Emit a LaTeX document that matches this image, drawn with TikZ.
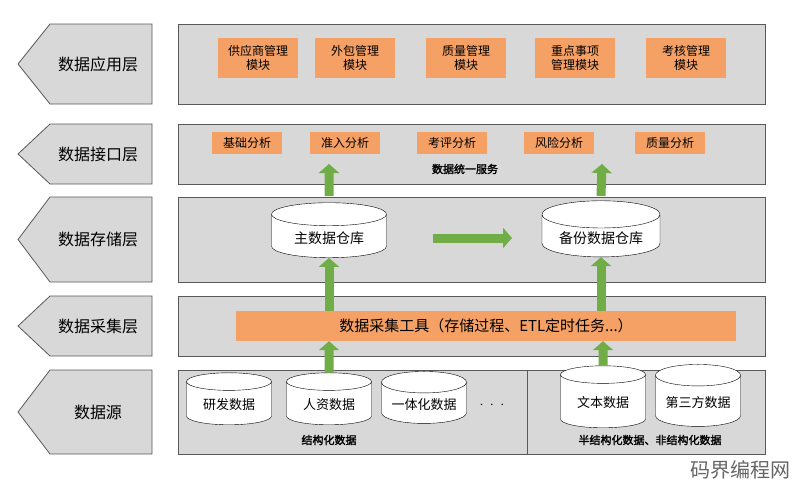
\documentclass[tikz,border=0pt]{standalone}
\usepackage{fontspec}
\setmainfont{Noto Sans CJK SC}
\newfontfamily\cjkbold[FakeBold=2]{Noto Sans CJK SC}
\usetikzlibrary{shapes.geometric,arrows.meta}
\definecolor{panelgray}{RGB}{216,216,216}
\definecolor{boxorange}{RGB}{245,160,100}
\definecolor{arrowgreen}{RGB}{112,173,71}
\tikzset{
  panel/.style={draw=gray!70!black, fill=panelgray, line width=0.8pt},
  modbox/.style={fill=boxorange, minimum width=80pt, minimum height=40pt, align=center, font=\fontsize{12}{14}\selectfont},
  anabox/.style={fill=boxorange, minimum width=70pt, minimum height=22pt, font=\fontsize{12}{14}\selectfont},
  store/.style={cylinder, shape border rotate=90, draw, fill=white, aspect=0.3, font=\fontsize{13}{15}\selectfont},
  flow/.style={-{Triangle[length=9pt,width=20pt]}, line width=9pt, arrowgreen},
  tag/.style={font=\cjkbold\fontsize{11}{13}\selectfont}
}
\begin{document}
\begin{tikzpicture}[x=1pt,y=-1pt]
	\useasboundingbox (0,0) rectangle (812,490);
	% layer labels
	\foreach \ya/\yb/\name in {24/104/数据应用层,124/184/数据接口层,197/282/数据存储层,296/356/数据采集层,370/454/数据源}{
		\filldraw[panel] (18,{(\ya+\yb)/2}) -- (50,\ya) -- (152,\ya) -- (152,\yb) -- (50,\yb) -- cycle;
		\node[font=\fontsize{16}{18}\selectfont] at (98,{(\ya+\yb)/2}) {\name};
		\filldraw[panel] (178,\ya) rectangle (765,\yb);
	}
	% application layer
	\node[modbox] (supplier) at (258,58) {供应商管理\\模块};
	\node[modbox] (outsource) at (355,58) {外包管理\\模块};
	\node[modbox] (quality) at (466,58) {质量管理\\模块};
	\node[modbox] (keyitem) at (575,58) {重点事项\\管理模块};
	\node[modbox] (assess) at (686,58) {考核管理\\模块};
	% interface layer
	\node[anabox] (basic) at (247,143) {基础分析};
	\node[anabox] (access) at (345,143) {准入分析};
	\node[anabox] (review) at (452,143) {考评分析};
	\node[anabox] (risk) at (559,143) {风险分析};
	\node[anabox] (qa) at (670,143) {质量分析};
	\node[tag] (service) at (465,169) {数据统一服务};
	% storage layer
	\node[store, minimum width=115pt, minimum height=55pt, font=\fontsize{14}{16}\selectfont] (master) at (329,238) {主数据仓库};
	\node[store, minimum width=118pt, minimum height=55pt, font=\fontsize{14}{16}\selectfont] (backup) at (601,238) {备份数据仓库};
	\coordinate (upA) at (329,164);
	\coordinate (upB) at (602,164);
	\coordinate (hA) at (433,238);
	\coordinate (hB) at (512,238);
	% collection layer
	\node[fill=boxorange, minimum width=500pt, minimum height=30pt, font=\fontsize{15}{17}\selectfont] (tool) at (486,326) {数据采集工具（存储过程、ETL定时任务...）};
	% sources
	\draw[gray!70!black, line width=0.8pt] (527,370) -- (527,454);
	\node[store, minimum width=85pt, minimum height=52pt] (rd) at (229,405) {研发数据};
	\node[store, minimum width=85pt, minimum height=52pt] (hr) at (329,405) {人资数据};
	\node[store, minimum width=85pt, minimum height=52pt] (integ) at (424,405) {一体化数据};
	\node[font=\fontsize{14}{16}\selectfont] (dots) at (492,405) {$\cdot\ \cdot\ \cdot$};
	\node[store, minimum width=85pt, minimum height=62pt] (text) at (603,403) {文本数据};
	\node[store, minimum width=85pt, minimum height=62pt] (third) at (698,403) {第三方数据};
	\node[tag] (structured) at (329,440) {结构化数据};
	\node[tag] (semi) at (650,440) {半结构化数据、非结构化数据};
	% arrows
	\draw[flow] (master.north |- 0,196) -- (upA);
	\draw[flow] (backup.north |- 0,196) -- (upB);
	\draw[flow] (hA) -- (hB);
	\draw[flow] (tool.north -| master) -- (master.south);
	\draw[flow] (tool.north -| backup) -- (backup.south);
	\draw[flow] (hr.north) -- (tool.south -| hr);
	\draw[flow] (text.north) -- (tool.south -| text);
	% watermark
	\node[font=\fontsize{20}{22}\selectfont, gray!80!black] (mark) at (740,470) {码界编程网};
\end{tikzpicture}
\end{document}
